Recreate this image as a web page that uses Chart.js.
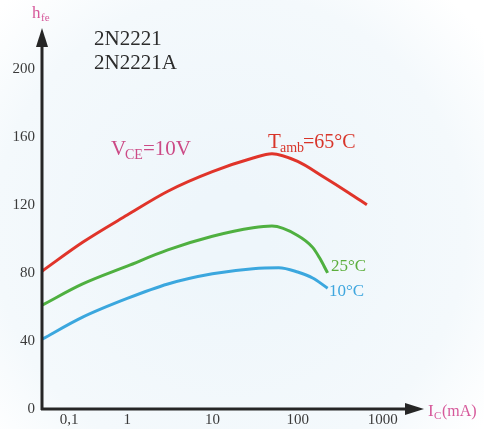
<!DOCTYPE html>
<html>
<head>
<meta charset="utf-8">
<script src="https://cdn.jsdelivr.net/npm/chart.js@4/dist/chart.umd.min.js"></script>
<style>
  html, body { margin: 0; padding: 0; background: #ffffff; }
  #wrap { width: 484px; height: 429px; }
</style>
</head>
<body>
<div id="wrap"><canvas id="myChart" width="484" height="429"></canvas></div>
<script>
// collector current I_C (mA) for each curve
const icHot = [0.1, 0.3, 1, 3, 10, 30, 50, 100, 200, 400, 650];
const icRoom = [0.1, 0.3, 1, 3, 10, 30, 50, 100, 150, 180, 225];
const icCold = [0.1, 0.3, 1, 3, 10, 30, 60, 100, 150, 225];

// hFE
const hfe65 = [81, 98, 114, 128, 139.5, 147.5, 150, 145.5, 136.5, 127, 120];
const hfe25 = [61, 73.5, 84, 93.5, 101.5, 106.5, 107.5, 102, 95, 89, 80];
const hfe10 = [41, 54, 65, 73.5, 79.5, 82.5, 83, 80.5, 77, 71];

const xTicks = [0.1, 1, 10, 100, 1000];
const xTickLabels = ['0,1', '1', '10', '100', '1000'];
const yTicks = [0, 40, 80, 120, 160, 200];

function pts (xs, ys) {
  return xs.map((x, i) => ({ x: x, y: ys[i] }));
}

/**
 * draws the axes with arrow heads, axis names, x tick labels and the notes in the plot
 */
const decor = {
  id: 'decor',
  beforeDraw (chart) {
    const ctx = chart.ctx;
    const g = ctx.createRadialGradient(230, 230, 40, 230, 230, 320);
    g.addColorStop(0, '#eef6fb');
    g.addColorStop(0.7, '#f4f9fc');
    g.addColorStop(1, '#ffffff');
    ctx.save();
    ctx.fillStyle = g;
    ctx.fillRect(0, 0, chart.width, chart.height);
    ctx.restore();
  },
  afterDatasetsDraw (chart) {
    const ctx = chart.ctx;
    const a = chart.chartArea;
    const xs = chart.scales.x;
    const x0 = a.left;
    const y0 = a.bottom;
    const serif = '"Liberation Serif", "DejaVu Serif", serif';
    ctx.save();
    ctx.strokeStyle = '#262626';
    ctx.fillStyle = '#262626';
    ctx.lineWidth = 3;
    ctx.beginPath();
    ctx.moveTo(x0, y0 + 1);
    ctx.lineTo(x0, a.top + 10);
    ctx.moveTo(x0 - 1, y0);
    ctx.lineTo(a.right - 4, y0);
    ctx.stroke();
    // arrow heads
    ctx.beginPath();
    ctx.moveTo(x0, a.top - 5);
    ctx.lineTo(x0 - 6, a.top + 14);
    ctx.lineTo(x0 + 6, a.top + 14);
    ctx.closePath();
    ctx.fill();
    ctx.beginPath();
    ctx.moveTo(a.right + 8, y0);
    ctx.lineTo(a.right - 11, y0 - 6);
    ctx.lineTo(a.right - 11, y0 + 6);
    ctx.closePath();
    ctx.fill();

    ctx.font = '15px ' + serif;
    ctx.fillStyle = '#3a3a3a';
    ctx.textAlign = 'center';
    ctx.textBaseline = 'alphabetic';
    for (let i = 0; i < xTicks.length; i++) {
      let px = xs.getPixelForValue(xTicks[i]);
      if (i === 0) px += 27; // first label nudged off the axis as in the figure
      ctx.fillText(xTickLabels[i], px, y0 + 15);
    }

    // axis names
    ctx.fillStyle = '#d6589a';
    ctx.textAlign = 'left';
    ctx.font = '17px ' + serif;
    ctx.fillText('h', 32, 18);
    ctx.font = '11px ' + serif;
    ctx.fillText('fe', 41, 21);
    ctx.font = '17px ' + serif;
    ctx.fillText('I', a.right + 12, y0 + 7);
    ctx.font = '11px ' + serif;
    ctx.fillText('C', a.right + 18, y0 + 10);
    ctx.font = '16px ' + serif;
    ctx.fillText('(mA)', a.right + 26, y0 + 7);

    // notes
    ctx.fillStyle = '#2c2c2c';
    ctx.font = '21px ' + serif;
    ctx.fillText('2N2221', 94, 45);
    ctx.fillText('2N2221A', 94, 69);

    ctx.fillStyle = '#cc4a86';
    ctx.font = '21px ' + serif;
    ctx.fillText('V', 111, 155);
    ctx.font = '14px ' + serif;
    ctx.fillText('CE', 125, 159);
    ctx.font = '21px ' + serif;
    ctx.fillText('=10V', 143, 155);

    ctx.fillStyle = '#d8352a';
    ctx.fillText('T', 268, 148);
    ctx.font = '14px ' + serif;
    ctx.fillText('amb', 280, 152);
    ctx.font = '20px ' + serif;
    ctx.fillText('=65°C', 303, 148);

    ctx.font = '17px ' + serif;
    ctx.fillStyle = '#5cae3c';
    ctx.fillText('25°C', 331, 271);
    ctx.fillStyle = '#3ea6de';
    ctx.fillText('10°C', 329, 296);
    ctx.restore();
  }
};

const data = {
  datasets: [
    {
      label: 'Tamb=65°C',
      data: pts(icHot, hfe65),
      borderColor: '#e0342a',
      borderWidth: 3,
      pointRadius: 0,
      cubicInterpolationMode: 'monotone'
    },
    {
      label: '25°C',
      data: pts(icRoom, hfe25),
      borderColor: '#4fb040',
      borderWidth: 3,
      pointRadius: 0,
      cubicInterpolationMode: 'monotone'
    },
    {
      label: '10°C',
      data: pts(icCold, hfe10),
      borderColor: '#3ba7de',
      borderWidth: 3,
      pointRadius: 0,
      cubicInterpolationMode: 'monotone'
    }
  ]
};

const config = {
  type: 'line',
  data,
  plugins: [decor],
  options: {
    responsive: false,
    animation: false,
    layout: { padding: { top: 33, right: 68, left: 0, bottom: 0 } },
    plugins: {
      legend: { display: false },
      tooltip: { enabled: false }
    },
    scales: {
      x: {
        type: 'logarithmic',
        min: 0.1,
        max: 2450,
        grid: { display: false, drawTicks: false },
        border: { display: false },
        ticks: { display: false },
        afterFit: (scale) => { scale.height = 20; }
      },
      y: {
        min: 0,
        max: 221,
        afterBuildTicks: (scale) => { scale.ticks = yTicks.map(v => ({ value: v })); },
        grid: { display: false, drawTicks: false },
        border: { display: false },
        ticks: {
          color: '#3a3a3a',
          padding: 7,
          font: { family: '"Liberation Serif", serif', size: 15 }
        },
        afterFit: (scale) => { scale.width = 42; }
      }
    }
  }
};

const myChart = new Chart(document.getElementById('myChart'), config);
</script>
</body>
</html>
